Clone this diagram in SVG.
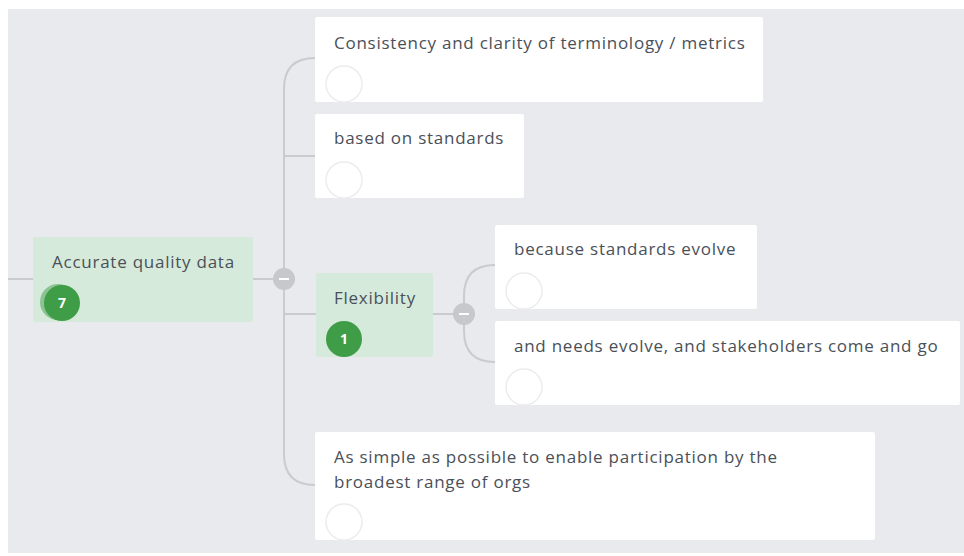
<svg xmlns="http://www.w3.org/2000/svg" width="964" height="556" viewBox="0 0 964 556">
<style>
.bg{fill:#e8eaed}
.card{fill:#ffffff}
.green{fill:#d6eadb}
.t{font-family:"Open Sans","Liberation Sans",sans-serif;font-size:17px;letter-spacing:0.75px;fill:#4a5058}
.line{fill:none;stroke:#c9cbce;stroke-width:2}
.ph{fill:#ffffff;stroke:#ececec;stroke-width:1.5}
.badge{fill:#3f9c47}
.bt{font-family:"Open Sans","Liberation Sans",sans-serif;font-size:14px;font-weight:bold;fill:#ffffff;text-anchor:middle}
.tog{fill:#c6c8cb}
.minus{stroke:#ffffff;stroke-width:2}
</style>
<rect width="964" height="556" fill="#ffffff"/>
<rect class="bg" x="8" y="9" width="956" height="544"/>
<g id="connectors">
<line class="line" x1="8" y1="279" x2="33" y2="279"/>
<line class="line" x1="253" y1="279" x2="284" y2="279"/>
<path class="line" d="M315 58 Q284 58 284 89 L284 454 Q284 485 315 485"/>
<line class="line" x1="284" y1="156" x2="315" y2="156"/>
<line class="line" x1="284" y1="314" x2="316" y2="314"/>
<line class="line" x1="433" y1="314" x2="464" y2="314"/>
<path class="line" d="M495 265 Q464 265 464 296 L464 331 Q464 362 495 362"/>
<circle class="tog" cx="284" cy="279" r="11"/>
<line class="minus" x1="279" y1="279" x2="289" y2="279"/>
<circle class="tog" cx="464" cy="314" r="11"/>
<line class="minus" x1="459" y1="314" x2="469" y2="314"/>
</g>
<g id="root">
<rect class="green" x="33" y="237" width="220" height="85" rx="2"/>
<text class="t" x="52" y="268">Accurate quality data</text>
<circle cx="58" cy="302" r="18" fill="#5aa961" opacity="0.6"/>
<circle class="badge" cx="62" cy="303" r="18"/>
<text class="bt" x="62" y="308">7</text>
</g>
<g id="n1">
<rect class="card" x="315" y="17" width="448" height="85" rx="2"/>
<text class="t" x="334" y="49">Consistency and clarity of terminology / metrics</text>
<circle class="ph" cx="344" cy="84" r="18"/>
</g>
<g id="n2">
<rect class="card" x="315" y="114" width="209" height="84" rx="2"/>
<text class="t" x="334" y="144">based on standards</text>
<circle class="ph" cx="344" cy="180" r="18"/>
</g>
<g id="flex">
<rect class="green" x="316" y="273" width="117" height="84" rx="2"/>
<text class="t" x="334" y="304">Flexibility</text>
<circle class="badge" cx="344" cy="339" r="18"/>
<text class="bt" x="344" y="344">1</text>
</g>
<g id="n3">
<rect class="card" x="495" y="225" width="262" height="84" rx="2"/>
<text class="t" x="514" y="255">because standards evolve</text>
<circle class="ph" cx="524" cy="291" r="18"/>
</g>
<g id="n4">
<rect class="card" x="495" y="321" width="465" height="84" rx="2"/>
<text class="t" x="514" y="352">and needs evolve, and stakeholders come and go</text>
<circle class="ph" cx="524" cy="387" r="18"/>
</g>
<g id="n5">
<rect class="card" x="315" y="432" width="560" height="108" rx="2"/>
<text class="t" x="334" y="463">As simple as possible to enable participation by the</text>
<text class="t" x="334" y="488">broadest range of orgs</text>
<circle class="ph" cx="344" cy="522" r="18"/>
</g>
</svg>
